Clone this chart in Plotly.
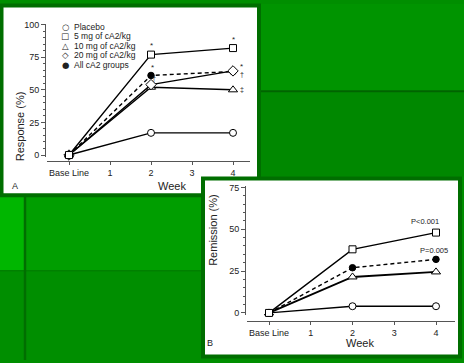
import plotly.graph_objects as go

W, H = 464, 363

# ---------------- data ----------------
weeks = [0, 2, 4]
week_ticks = [0, 1, 2, 3, 4]
week_labels = ["Base Line", "1", "2", "3", "4"]

series_names = ["Placebo", "5 mg of cA2/kg", "10 mg of cA2/kg",
                "20 mg of cA2/kg", "All cA2 groups"]

resp_placebo = [0, 17, 17]
resp_5mg = [0, 77, 82]
resp_10mg = [0, 52, 50]
resp_20mg = [0, 54, 64.5]
resp_all = [0, 61, 64]

rem_placebo = [0, 4, 4]
rem_5mg = [0, 38, 48]
rem_10mg = [0, 21.5, 24.5]
rem_all = [0, 27, 32]

resp_ticks = [0, 25, 50, 75, 100]
rem_ticks = [0, 25, 50, 75]

# ---------------- helpers ----------------
def px(x):
    return x / W

def py(y):
    return 1 - y / H

FONT = "Liberation Sans, Arial, Helvetica, sans-serif"
GFONT = "DejaVu Sans, sans-serif"
TXT = "#222222"
AX = "#555555"

symbols = ["circle", "square", "triangle-up", "diamond", "circle"]
fills = ["white", "white", "white", "white", "black"]
sizes = [7, 7, 8, 8, 6.5]
dashes = ["solid", "solid", "solid", "solid", "4px,3px"]
glyphs = ["○", "□", "△", "◇", "●"]

fig = go.Figure()

def add_series(xa, ya, values, idx, width=1.4):
    fig.add_trace(go.Scatter(
        x=weeks, y=values, xaxis=xa, yaxis=ya, mode="lines+markers",
        name=series_names[idx], showlegend=False, cliponaxis=False,
        line=dict(color="black", width=width, dash=dashes[idx]),
        marker=dict(symbol=symbols[idx], size=sizes[idx],
                    color=fills[idx], line=dict(color="black", width=1)),
    ))

# Panel A
add_series("x", "y", resp_placebo, 0)
add_series("x", "y", resp_all, 4)
add_series("x", "y", resp_10mg, 2)
add_series("x", "y", resp_20mg, 3)
add_series("x", "y", resp_5mg, 1)

# Panel B
add_series("x2", "y2", rem_placebo, 0)
add_series("x2", "y2", rem_10mg, 2, width=1.9)
add_series("x2", "y2", rem_all, 4)
add_series("x2", "y2", rem_5mg, 1)

# ---------------- axes ----------------
def xax(domain_px, rng, pos_px):
    return dict(domain=[px(domain_px[0]), px(domain_px[1])], range=rng,
                anchor="free", position=py(pos_px),
                tickmode="array", tickvals=week_ticks, ticktext=week_labels,
                showline=True, linecolor=AX, linewidth=1,
                ticks="outside", ticklen=3, tickcolor=AX, tickwidth=1,
                showgrid=False, zeroline=False,
                tickfont=dict(family=FONT, size=9, color=TXT), fixedrange=True)

def yax(domain_px, rng, pos_px, tickvals):
    return dict(domain=[py(domain_px[0]), py(domain_px[1])], range=rng,
                anchor="free", position=px(pos_px),
                tickmode="array", tickvals=tickvals,
                showline=True, linecolor=AX, linewidth=1,
                ticks="outside", ticklen=4, tickcolor=AX, tickwidth=1,
                minor=dict(dtick=5, ticks="outside", ticklen=2,
                           tickcolor=AX, showgrid=False),
                showgrid=False, zeroline=False,
                tickfont=dict(family=FONT, size=9, color=TXT), fixedrange=True)

# A: x=0 -> 69px, x=4 -> 233px ; y=0 -> 154px, y=100 -> 21px
xa_rng = [(47 - 69) / 41.0, (250 - 69) / 41.0]
ya_rng = [(154 - 156) / 1.33, (154 - 20) / 1.33]
# B: x=0 -> 269px, x=4 -> 436px ; y=0 -> 315px, y=75 -> 187px
xb_rng = [(247 - 269) / 41.75, (455 - 269) / 41.75]
yb_rng = [(315 - 317) / 1.7067, (315 - 186) / 1.7067]

# ---------------- background shapes ----------------
shapes = []
def rect(x0, y0, x1, y1, fill, line=None, lw=0):
    shapes.append(dict(type="rect", xref="paper", yref="paper",
                       x0=px(x0), x1=px(x1), y0=py(y1), y1=py(y0),
                       fillcolor=fill, layer="below",
                       line=dict(width=lw, color=line or fill)))

def hline(x0, x1, y, color, w):
    shapes.append(dict(type="line", xref="paper", yref="paper",
                       x0=px(x0), x1=px(x1), y0=py(y), y1=py(y),
                       line=dict(color=color, width=w), layer="below"))

def vline(x, y0, y1, color, w):
    shapes.append(dict(type="line", xref="paper", yref="paper",
                       x0=px(x), x1=px(x), y0=py(y0), y1=py(y1),
                       line=dict(color=color, width=w), layer="below"))

rect(0, 0, 464, 363, "rgb(0,142,0)")
rect(0, 190, 25, 272, "rgb(0,182,0)")
rect(25, 190, 201, 272, "rgb(0,158,0)")
rect(256, 0, 464, 89, "rgb(0,148,0)")
rect(256, 89, 464, 176, "rgb(0,136,0)")
hline(256, 464, 89, "rgb(0,100,0)", 2)
hline(0, 201, 272, "rgb(0,128,0)", 1.5)
vline(25, 190, 363, "rgb(0,110,0)", 2.5)
# panel A
rect(1.5, 1.5, 259, 195, "white", "rgb(0,110,0)", 4)
# panel B
rect(203, 178, 460, 359.5, "white", "rgb(0,110,0)", 4)

# ---------------- annotations ----------------
ann = []
def note(text, x, y, size=9, family=FONT, **kw):
    d = dict(text=text, x=px(x), y=py(y), xref="paper", yref="paper",
             showarrow=False, borderpad=0,
             font=dict(family=family, size=size, color=TXT))
    d.update(kw)
    ann.append(d)

# axis titles / panel letters
note("Response (%)", 13, 88, size=11, textangle=-90)
note("Week", 172, 186, size=11)
note("A", 11, 186, size=9)
note("Remission (%)", 213, 268, size=11, textangle=-90)
note("Week", 375, 353, size=11)
note("B", 210, 352, size=9)

# legend (manual, compact like the original)
for i, name in enumerate(series_names):
    yy = 17 + i * 9.7
    note(glyphs[i], 65, yy, size=8.5, family=GFONT, xanchor="center")
    note(name, 73, yy, size=8.5, xanchor="left")

def dnote(text, xa, ya, x, y, xs=0, ys=0, size=8):
    ann.append(dict(text=text, x=x, y=y, xref=xa, yref=ya, showarrow=False,
                    xshift=xs, yshift=ys, borderpad=0,
                    font=dict(family=FONT, size=size, color=TXT)))

# significance marks panel A
dnote("*", "x", "y", weeks[1], resp_5mg[1], 0, 9)
dnote("*", "x", "y", weeks[2], resp_5mg[2], 0, 9)
dnote("*", "x", "y", weeks[1], resp_all[1], 1, 8)
dnote("*", "x", "y", weeks[2], resp_20mg[2], 8, 4)
dnote("†", "x", "y", weeks[2], resp_20mg[2], 9, -4, size=7)
dnote("†", "x", "y", weeks[1], resp_20mg[1], 3, 6, size=7)
dnote("‡", "x", "y", weeks[2], resp_10mg[2], 9, 0, size=7)

# p-values panel B
dnote("P<0.001", "x2", "y2", weeks[2], rem_5mg[2], -11, 11, size=7.5)
dnote("P=0.005", "x2", "y2", weeks[2], rem_all[2], -2, 9, size=7.5)

fig.update_layout(
    width=W, height=H, margin=dict(l=0, r=0, t=0, b=0),
    paper_bgcolor="rgb(0,142,0)", plot_bgcolor="rgba(0,0,0,0)",
    showlegend=False,
    xaxis=xax([47, 250], xa_rng, 160),
    yaxis=yax([156, 20], ya_rng, 45, resp_ticks),
    xaxis2=xax([247, 455], xb_rng, 323),
    yaxis2=yax([317, 186], yb_rng, 245, rem_ticks),
    shapes=shapes, annotations=ann,
    font=dict(family=FONT, color=TXT),
)

fig.write_html(
    "out.html",
    config={"displayModeBar": False},
    post_script="document.body.style.margin='0px';document.body.style.padding='0px';document.body.style.overflow='hidden';",
)
